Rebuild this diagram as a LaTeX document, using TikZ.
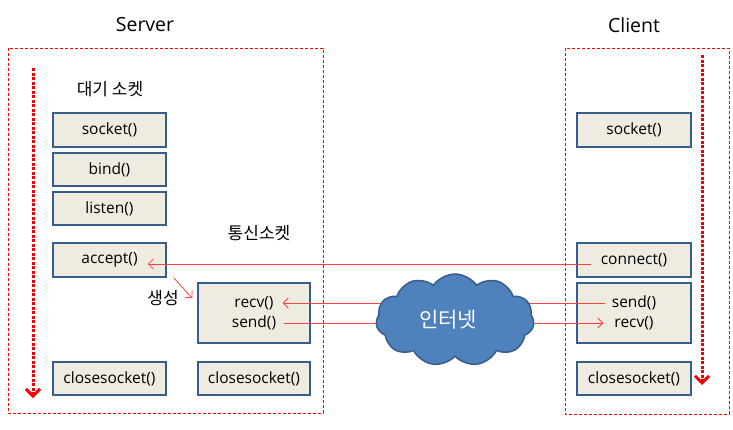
\documentclass[tikz,border=0pt]{standalone}
\usepackage{fontspec}
\setmainfont{Open Sans}
\newfontfamily\kr{Noto Sans CJK KR}
\usetikzlibrary{arrows.meta,shapes.symbols}
\definecolor{boxfill}{HTML}{EEECE1}
\definecolor{boxline}{HTML}{385D8A}
\definecolor{cloudfill}{HTML}{4F81BD}
\definecolor{linered}{HTML}{FF4040}
\definecolor{dotred}{HTML}{F00000}
\tikzset{
  fbox/.style={draw=boxline, fill=boxfill, line width=1.6pt, minimum width=113pt, minimum height=33.5pt, inner sep=0pt, font=\fontsize{15.5}{18}\selectfont},
  txt/.style={inner sep=3pt, font=\fontsize{15.5}{18}\selectfont},
  lbl/.style={inner sep=0pt, font=\kr\fontsize{17}{20}\selectfont},
  ttl/.style={inner sep=0pt, font=\fontsize{19.5}{23}\selectfont},
  frame/.style={draw=red, line width=0.7pt, dash pattern=on 3pt off 2pt},
  redarrow/.style={draw=linered, line width=0.8pt, -{Straight Barb[length=5pt,width=10pt]}},
  flow/.style={draw=dotred, line width=3pt, dash pattern=on 3pt off 1.5pt, -{Straight Barb[length=7pt,width=14pt,line width=3pt]}}
}
\begin{document}
\begin{tikzpicture}[x=1pt,y=-1pt]
\useasboundingbox (0,0) rectangle (733,429);
\fill[white] (0,0) rectangle (733,429);
% frames
\draw[frame] (8,48) rectangle (323,413);
\draw[frame] (565,48) rectangle (729,414);
% titles
\node[ttl] (tserver) at (145,25) {Server};
\node[ttl] (tclient) at (634,25) {Client};
\node[lbl] (ldaegi) at (110,89) {대기 소켓};
\node[lbl] (ltongsin) at (259,233) {통신소켓};
\node[lbl] (lsaeng) at (163,298) {생성};
% server boxes
\node[fbox] (ssocket) at (109.5,130) {socket()};
\node[fbox] (sbind) at (109.5,169.5) {bind()};
\node[fbox] (slisten) at (109.5,208.5) {listen()};
\node[fbox] (saccept) at (109.5,260) {accept()};
\node[fbox] (sclose) at (109.5,378.5) {closesocket()};
\node[fbox, minimum width=112pt, minimum height=60pt] (rsbox) at (254,313) {};
\node[txt] (srecv) at (254,303) {recv()};
\node[txt] (ssend) at (254,323) {send()};
\node[fbox, minimum width=112pt] (sclose2) at (254,378.5) {closesocket()};
% client boxes
\node[fbox, minimum width=114pt] (csocket) at (634,130) {socket()};
\node[fbox, minimum width=114pt] (cconnect) at (634,260) {connect()};
\node[fbox, minimum width=114pt, minimum height=60pt] (csrbox) at (634,313) {};
\node[txt] (csend) at (634,303) {send()};
\node[txt] (crecv) at (634,323) {recv()};
\node[fbox, minimum width=114pt] (cclose) at (634,378.5) {closesocket()};
% flow arrows
\coordinate (sfa) at (33,68);
\coordinate (sfb) at (33,398);
\coordinate (cfa) at (702,55);
\coordinate (cfb) at (702,385);
\draw[flow] (sfa) -- (sfb);
\draw[flow] (cfa) -- (cfb);
% red connectors
\draw[redarrow] ([shift={(15,4)}]cconnect.west) -- ([shift={(-19,4)}]saccept.east);
\draw[redarrow] ([shift={(64,0)}]saccept.south) -- ([shift={(-5,16)}]rsbox.north west);
\draw[redarrow] ([xshift=-4pt]csend.west) -- ([xshift=6pt]srecv.east);
\draw[redarrow] ([xshift=5pt]ssend.east) -- ([xshift=-8pt]crecv.west);
% cloud
\node[cloud, cloud puffs=11, cloud puff arc=110, aspect=1.6, draw=boxline, fill=cloudfill, line width=1.5pt, minimum width=158pt, minimum height=92pt, inner sep=0pt] (net) at (455,320) {};
\node[text=white, inner sep=0pt, font=\kr\fontsize{21}{24}\selectfont] (nettext) at (448,320) {인터넷};
\end{tikzpicture}
\end{document}
